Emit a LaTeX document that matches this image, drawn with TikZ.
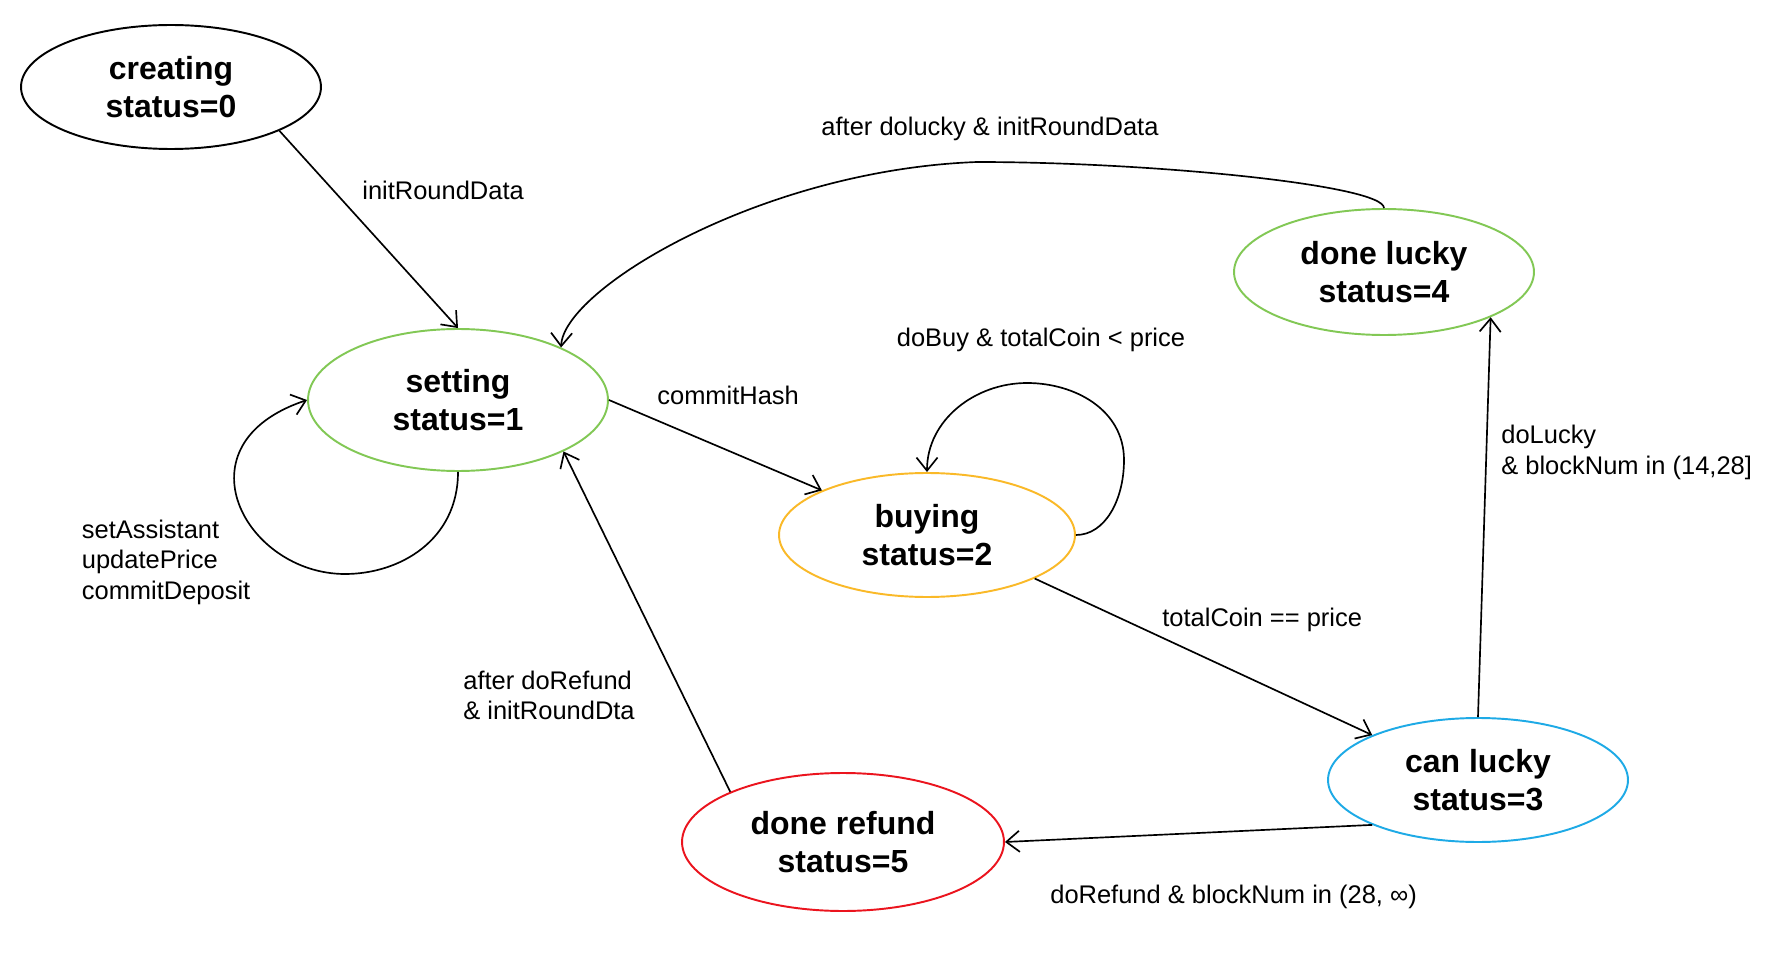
\documentclass[tikz,border=0pt]{standalone}
\usepackage{fontspec}
\setmainfont{Liberation Sans}
\usetikzlibrary{shapes.geometric,arrows.meta}
\definecolor{stgreen}{RGB}{130,200,85}
\definecolor{storange}{RGB}{250,185,40}
\definecolor{stblue}{RGB}{30,170,230}
\definecolor{stred}{RGB}{235,20,30}
\begin{document}
\begin{tikzpicture}[x=0.02cm,y=-0.02cm,
  state/.style={ellipse, draw=#1, line width=1.1pt, inner sep=0pt, align=center,
    font=\fontsize{18.2}{22}\selectfont\bfseries},
  lbl/.style={font=\fontsize{14.5}{17.4}\selectfont, inner sep=0pt},
  conn/.style={draw=black, line width=0.95pt, -{Straight Barb[length=7.5pt,width=12pt]}}]
\useasboundingbox[fill=white] (0,0) rectangle (1776,956);

\node[state=black, minimum width=6cm, minimum height=2.48cm] (creating) at (171,87) {creating\\status=0};
\node[state=stgreen, minimum width=6cm, minimum height=2.84cm] (setting) at (458,400) {setting\\status=1};
\node[state=storange, minimum width=5.92cm, minimum height=2.48cm] (buying) at (927,535) {buying\\status=2};
\node[state=stgreen, minimum width=6cm, minimum height=2.52cm] (donelucky) at (1384,272) {done lucky\\status=4};
\node[state=stblue, minimum width=6cm, minimum height=2.48cm] (canlucky) at (1478,780) {can lucky\\status=3};
\node[state=stred, minimum width=6.44cm, minimum height=2.76cm] (donerefund) at (843,842) {done refund\\status=5};

\draw[conn] (creating.-22) -- (setting.north);
\draw[conn] (setting.south) .. controls (458,540) and (400,574) .. (345,574)
  .. controls (245,574) and (175,444) .. (setting.west);
\draw[conn] (setting.east) -- (buying.157);
\draw[conn] (buying.east) .. controls (1105,535) and (1124,500) .. (1124,460)
  .. controls (1124,410) and (1075,383) .. (1027,383)
  .. controls (975,383) and (927,420) .. (buying.north);
\draw[conn] (buying.-22.5) -- (canlucky.157.5);
\draw[conn] (canlucky.north) -- (donelucky.-23.4);
\draw[conn] (donelucky.north) .. controls (1384,185) and (1150,162) .. (977,162)
  .. controls (760,170) and (563,290) .. (setting.27);
\draw[conn] (canlucky.203) -- (donerefund.east);
\draw[conn] (donerefund.156) -- (setting.-26);

\node[lbl, anchor=west] (l1) at (362,190) {initRoundData};
\node[lbl] (l2) at (990,128.5) {after dolucky \& initRoundData};
\node[lbl] (l3) at (1041,340) {doBuy \& totalCoin < price};
\node[lbl, anchor=west] (l4) at (657,395) {commitHash};
\node[lbl, anchor=west, align=left] (l5) at (81.5,562) {setAssistant\\updatePrice\\commitDeposit};
\node[lbl, anchor=west, align=left] (l6) at (463,695.5) {after doRefund\\\& initRoundDta};
\node[lbl, anchor=west] (l7) at (1162,620) {totalCoin == price};
\node[lbl, anchor=west, align=left] (l8) at (1501,452.5) {doLucky\\\& blockNum in (14,28]};
\node[lbl, anchor=west] (l9) at (1050,896.5) {doRefund \& blockNum in (28, ∞)};
\end{tikzpicture}
\end{document}
